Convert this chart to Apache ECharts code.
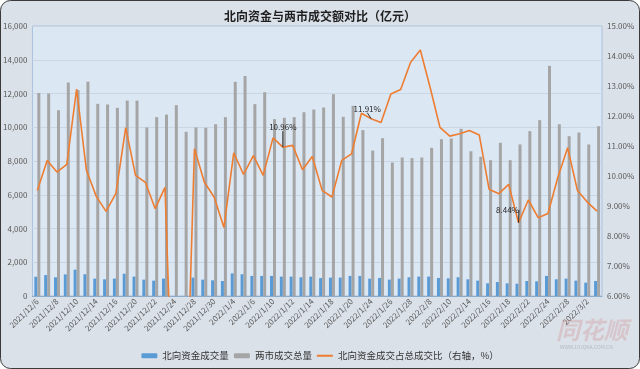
<!DOCTYPE html>
<html><head><meta charset="utf-8">
<script src="https://cdn.jsdelivr.net/npm/echarts@6/dist/echarts.min.js"></script>
<style>html,body{margin:0;padding:0;background:#fff}#c{width:640px;height:369px}</style>
</head><body><div id="c"></div>
<script>
const dates = ['2021/12/6','2021/12/7','2021/12/8','2021/12/9','2021/12/10','2021/12/13','2021/12/14','2021/12/15','2021/12/16','2021/12/17',
'2021/12/20','2021/12/21','2021/12/22','2021/12/23','2021/12/24','2021/12/27','2021/12/28','2021/12/29','2021/12/30','2021/12/31',
'2022/1/4','2022/1/5','2022/1/6','2022/1/7','2022/1/10','2022/1/11','2022/1/12','2022/1/13','2022/1/14','2022/1/17',
'2022/1/18','2022/1/19','2022/1/20','2022/1/21','2022/1/24','2022/1/25','2022/1/26','2022/1/27','2022/1/28','2022/2/7',
'2022/2/8','2022/2/9','2022/2/10','2022/2/11','2022/2/14','2022/2/15','2022/2/16','2022/2/17','2022/2/18','2022/2/21',
'2022/2/22','2022/2/23','2022/2/24','2022/2/25','2022/2/28','2022/3/1','2022/3/2','2022/3/3'];

const northbound = [1140,1240,1110,1280,1560,1290,1030,990,1030,1320,
1150,970,910,1030,null,null,1090,970,930,890,
1340,1290,1190,1190,1190,1150,1150,1110,1150,1060,
1090,1090,1190,1190,1030,1070,970,1030,1110,1150,
1150,1070,1050,1110,990,910,750,830,750,730,
890,870,1190,990,1030,910,790,890];

const marketTotal = [12030,12000,11010,12650,12200,12700,11390,11350,11150,11580,
11580,9990,10600,10750,11310,9730,9990,9970,10180,10600,
12690,13040,11370,12080,10480,10560,10600,10890,11050,11170,
11960,10620,11270,9830,8620,9350,7910,8210,8170,8210,
8780,9290,9330,9910,8580,8250,8050,9080,8050,8980,
9770,10420,13640,10180,9470,9690,8980,10060];

const ratioPct = [9.52,10.52,10.13,10.39,12.90,10.19,9.32,8.82,9.42,11.61,
10.02,9.79,8.91,9.62,0,0,10.91,9.80,9.30,8.28,
10.77,10.05,10.68,10.02,11.27,10.96,11.02,10.21,10.65,9.52,
9.30,10.52,10.74,12.09,11.91,11.78,12.73,12.88,13.78,14.20,
12.95,11.62,11.33,11.41,11.52,11.37,9.56,9.41,9.72,8.44,
9.20,8.61,8.75,9.95,10.94,9.52,9.13,8.83];

const labeledIdx = [25, 34, 49];
const labelShift = {25: [0, -11], 34: [-4, -1], 49: [-11, -4]};

const FONT = '"Noto Sans CJK SC","Noto Sans",sans-serif';
const chart = echarts.init(document.getElementById('c'));
const option = {
  animation: false,
  textStyle: {fontFamily: FONT},
  graphic: [
    {type: 'rect', z: -100, silent: true, shape: {x: 0.5, y: 0.5, width: 639, height: 368, r: 10},
     style: {fill: '#dbe1e9', stroke: '#3a3a3a', lineWidth: 1}},
    {type: 'text', z: 100, silent: true, left: 556, top: 318,
     style: {text: '同花顺', font: 'italic bold 24px ' + FONT, fill: 'rgba(205,150,150,0.35)'}},
    {type: 'text', z: 100, silent: true, left: 560, top: 345,
     style: {text: 'WWW.10JQKA.COM.CN', font: '5px ' + FONT, fill: 'rgba(160,160,160,0.6)'}}
  ],
  title: {text: '北向资金与两市成交额对比（亿元）', left: 'center', top: 5,
    textStyle: {fontSize: 12, fontWeight: 'bold', color: '#1f1f1f', fontFamily: FONT}},
  grid: {left: 32, right: 38, top: 26, bottom: 73, show: true, backgroundColor: '#dce7f4',
    borderColor: '#a7c1de', borderWidth: 1},
  legend: {left: 'center', top: 346, itemWidth: 16, itemHeight: 5, itemGap: 5,
    textStyle: {fontSize: 9.5, color: '#333', fontFamily: FONT},
    data: ['北向资金成交量', '两市成交总量',
      {name: '北向资金成交占总成交比（右轴，%）', icon: 'path://M0 0H16V2H0Z'}]},
  xAxis: {type: 'category', data: dates,
    axisLine: {lineStyle: {color: '#8eaacb'}}, axisTick: {show: false},
    axisLabel: {interval: 1, rotate: 45, fontSize: 8, color: '#595959', margin: 4}},
  yAxis: [
    {type: 'value', min: 0, max: 16000, interval: 2000,
     axisLabel: {fontSize: 8, color: '#595959', margin: 5, formatter: v => v.toLocaleString('en-US')},
     splitLine: {lineStyle: {color: '#cbd6e4'}}, axisLine: {show: false}, axisTick: {show: false}},
    {type: 'value', min: 6, max: 15, interval: 1, position: 'right',
     axisLabel: {fontSize: 8, color: '#595959', margin: 5, formatter: v => v.toFixed(2) + '%'},
     splitLine: {show: false}, axisLine: {show: false}, axisTick: {show: false}}
  ],
  series: [
    {name: '北向资金成交量', type: 'bar', data: northbound, barWidth: 3, barGap: '0%',
     itemStyle: {color: '#5b9bd5'}},
    {name: '两市成交总量', type: 'bar', data: marketTotal, barWidth: 3, barGap: '0%',
     itemStyle: {color: '#a5a5a5'}},
    {name: '北向资金成交占总成交比（右轴，%）', type: 'line', yAxisIndex: 1, clip: true,
     symbol: 'circle', symbolSize: 0.01, showSymbol: true, z: 5,
     lineStyle: {color: '#ed7d31', width: 1.6}, itemStyle: {color: '#ed7d31'},
     data: ratioPct.map((v, i) => labeledIdx.includes(i) ? {value: v, label: {show: true}} : v),
     label: {show: false, position: 'top', distance: 5, fontSize: 8, color: '#262626',
       formatter: p => Number(p.value).toFixed(2) + '%'},
     labelLine: {show: true, lineStyle: {color: '#333', width: 1}},
     labelLayout: p => {
       const s = labelShift[p.dataIndex];
       return s ? {dx: s[0], dy: s[1]} : {};
     }}
  ]
};
chart.setOption(option);
</script></body></html>
